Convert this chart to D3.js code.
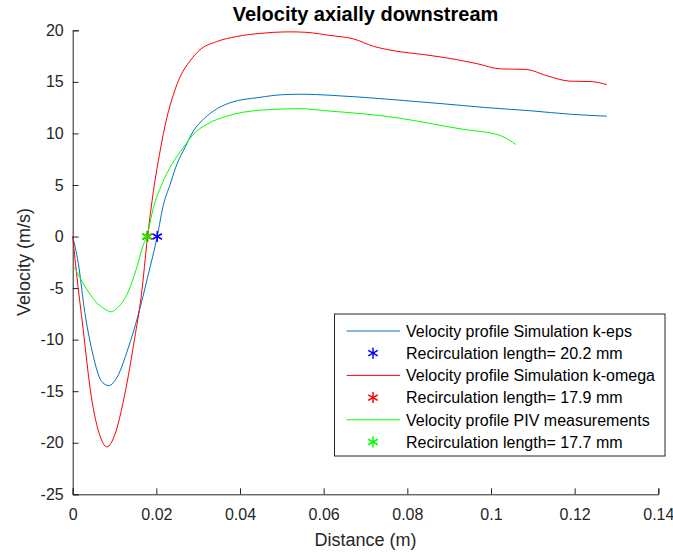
<!DOCTYPE html>
<html><head><meta charset="utf-8">
<script src="https://cdn.jsdelivr.net/npm/d3@7"></script>
<style>body{margin:0;background:#fff;} svg{display:block;font-family:"Liberation Sans",Arial,sans-serif;}</style>
</head><body>
<script>
const xTicks = [0, 0.02, 0.04, 0.06, 0.08, 0.1, 0.12, 0.14];
const yTicks = [-25, -20, -15, -10, -5, 0, 5, 10, 15, 20];

const kepsX = [0, 0.0013, 0.0029, 0.0049, 0.0068, 0.0086, 0.0108, 0.0132, 0.0156, 0.018, 0.0202, 0.0217, 0.0233, 0.0249, 0.0268, 0.0288, 0.0308, 0.0336, 0.0376, 0.0448, 0.05, 0.055, 0.0615, 0.0759, 0.0878, 0.099, 0.1093, 0.1197, 0.1277];
const kepsY = [0, -2.5, -7.36, -11.56, -13.98, -14.46, -13.5, -10.9, -7.7, -3.8, 0, 3.1, 5.06, 7.0, 8.6, 10.2, 11.2, 12.16, 12.97, 13.5, 13.75, 13.8, 13.7, 13.3, 12.9, 12.5, 12.2, 11.84, 11.67];

const komX = [0, 0.0009, 0.0025, 0.0044, 0.0065, 0.0082, 0.01, 0.0124, 0.0148, 0.0164, 0.0179, 0.0193, 0.0209, 0.0225, 0.0241, 0.0257, 0.028, 0.0304, 0.0344, 0.0392, 0.0448, 0.048, 0.052, 0.056, 0.0615, 0.0671, 0.0719, 0.0775, 0.0838, 0.0918, 0.0966, 0.1022, 0.1085, 0.1133, 0.1189, 0.1237, 0.1277];
const komY = [0, -3.5, -9.0, -15.4, -19.3, -20.4, -19.3, -15.4, -9.9, -5.75, 0, 4.4, 8.3, 11.5, 13.8, 15.5, 17.0, 18.1, 18.9, 19.4, 19.7, 19.8, 19.85, 19.8, 19.5, 19.17, 18.45, 17.97, 17.65, 17.16, 16.77, 16.26, 16.2, 15.6, 15.07, 15.03, 14.74];

const pivX = [0.0004, 0.0029, 0.0053, 0.0077, 0.0091, 0.0108, 0.0132, 0.0152, 0.0168, 0.0177, 0.0193, 0.0213, 0.0237, 0.0264, 0.0288, 0.032, 0.0368, 0.0448, 0.0543, 0.0615, 0.0695, 0.0775, 0.0854, 0.0934, 0.1014, 0.1029, 0.1059];
const pivY = [-3.0, -4.8, -6.23, -7.04, -7.3, -6.88, -5.42, -3.17, -0.9, 0, 2.8, 5.06, 7.0, 8.6, 9.9, 10.87, 11.67, 12.25, 12.4, 12.16, 11.9, 11.52, 10.97, 10.39, 9.9, 9.68, 8.93];

const recircX = [0.0202, 0.0179, 0.0177];
const recircY = [0, 0, 0];

const seriesNames = ["Velocity profile Simulation k-eps", "Velocity profile Simulation k-omega", "Velocity profile PIV measurements"];
const recircLabels = ["Recirculation length= 20.2 mm", "Recirculation length= 17.9 mm", "Recirculation length= 17.7 mm"];
const lineColors = ["#0072BD", "#FF0000", "#00FF00"];
const markerColors = ["#0000FF", "#FF0000", "#00FF00"];

const W = 673, H = 554;
const m = {left: 72.7, right: 658.3, top: 30.3, bottom: 494.3};
const svg = d3.select("body").append("svg").attr("width", W).attr("height", H);

const x = d3.scaleLinear().domain([0, 0.14]).range([m.left, m.right]);
const y = d3.scaleLinear().domain([-25, 20]).range([m.bottom, m.top]);

const xAxis = d3.axisBottom(x).tickValues(xTicks).tickSize(-6).tickPadding(14).tickFormat(d => d3.format("~g")(d));
const yAxis = d3.axisLeft(y).tickValues(yTicks).tickSize(-6).tickPadding(9).tickFormat(d => d);

const gx = svg.append("g").attr("transform", `translate(0,${m.bottom})`).call(xAxis);
const gy = svg.append("g").attr("transform", `translate(${m.left},0)`).call(yAxis);
[gx, gy].forEach(g => {
  g.select(".domain").attr("stroke", "#262626").attr("stroke-width", 1);
  g.selectAll(".tick line").attr("stroke", "#262626");
  g.selectAll(".tick text").attr("fill", "#262626").style("font-size", "16px").style("font-family", "Liberation Sans, Arial, sans-serif");
});

const line = d3.line().x(d => x(d[0])).y(d => y(d[1])).curve(d3.curveMonotoneX);
const series = [[kepsX, kepsY], [komX, komY], [pivX, pivY]];
series.forEach((s, i) => {
  svg.append("path").datum(d3.zip(s[0], s[1]))
    .attr("d", line).attr("fill", "none").attr("stroke", lineColors[i]).attr("stroke-width", 1);
});

function star(g, cx, cy, r, color) {
  const angs = [90, 30, -30];
  angs.forEach(a => {
    const rad = a * Math.PI / 180;
    g.append("line")
      .attr("x1", cx - r * Math.cos(rad)).attr("y1", cy - r * Math.sin(rad))
      .attr("x2", cx + r * Math.cos(rad)).attr("y2", cy + r * Math.sin(rad))
      .attr("stroke", color).attr("stroke-width", 1.5);
  });
}
const mg = svg.append("g");
recircX.forEach((v, i) => star(mg, x(v), y(recircY[i]), 5.5, markerColors[i]));

svg.append("text").attr("x", (m.left + m.right) / 2).attr("y", 21).attr("text-anchor", "middle")
  .style("font-size", "20px").style("font-weight", "bold").attr("fill", "#000").text("Velocity axially downstream");
svg.append("text").attr("x", (m.left + m.right) / 2).attr("y", 546).attr("text-anchor", "middle")
  .style("font-size", "18px").attr("fill", "#262626").text("Distance (m)");
svg.append("text").attr("transform", "translate(30,262) rotate(-90)").attr("text-anchor", "middle")
  .style("font-size", "18px").attr("fill", "#262626").text("Velocity (m/s)");

const lg = svg.append("g");
lg.append("rect").attr("x", 334.5).attr("y", 314).attr("width", 330.5).attr("height", 142)
  .attr("fill", "#fff").attr("stroke", "#262626").attr("stroke-width", 1);
const rowY0 = 331, rowDy = 22.2;
for (let i = 0; i < 3; i++) {
  const yl = rowY0 + rowDy * (2 * i);
  const ym = rowY0 + rowDy * (2 * i + 1);
  lg.append("line").attr("x1", 346.7).attr("x2", 400).attr("y1", yl).attr("y2", yl).attr("stroke", lineColors[i]).attr("stroke-width", 1);
  lg.append("text").attr("x", 406).attr("y", yl).attr("dy", "0.36em").style("font-size", "16px").attr("fill", "#000").text(seriesNames[i]);
  star(lg, 373, ym, 5.5, markerColors[i]);
  lg.append("text").attr("x", 406).attr("y", ym).attr("dy", "0.36em").style("font-size", "16px").attr("fill", "#000").text(recircLabels[i]);
}
</script>
</body></html>
